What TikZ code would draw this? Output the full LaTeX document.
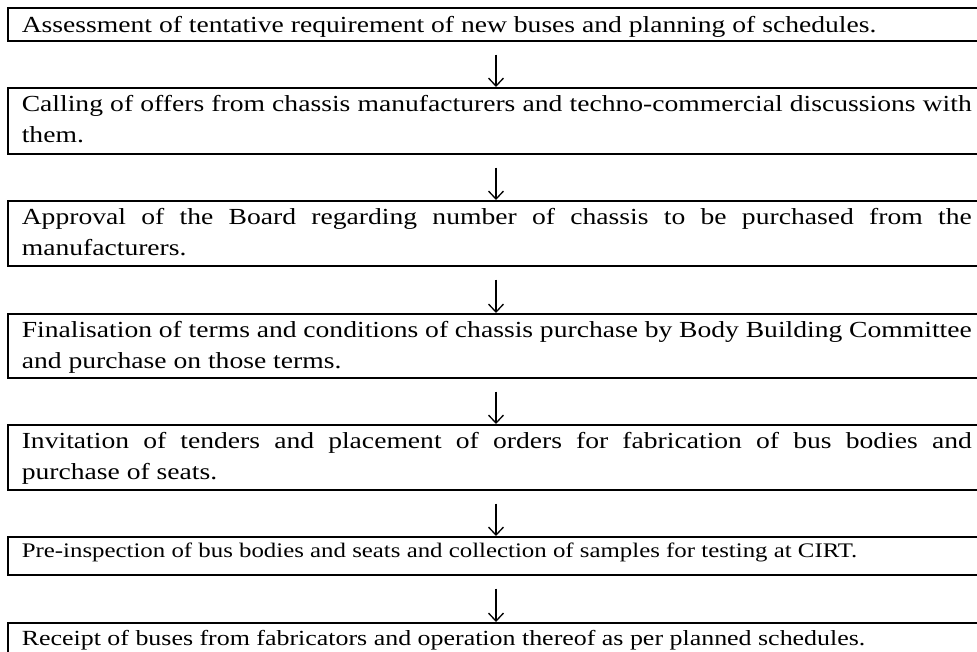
\documentclass[tikz,border=0pt]{standalone}
\usepackage{fontspec}
\setmainfont{Liberation Serif}[FakeStretch=1.2]
\usetikzlibrary{arrows.meta}
\newcommand{\bxtext}[3]{\noindent\rule{0pt}{#1pt}#3\rule[-#2pt]{0pt}{#2pt}}
\tikzset{
  stepbox/.style={draw, line width=1.6pt, anchor=north west, inner xsep=14pt, inner ysep=0pt,
    text width=950pt, align=justify, font=\fontsize{23pt}{31pt}\selectfont},
  smallbox/.style={stepbox, font=\fontsize{#1}{29pt}\selectfont},
  flowarrow/.style={line width=1.3pt, -{Straight Barb[length=8pt,width=15pt,line width=1.3pt]}}
}
\begin{document}
\begin{tikzpicture}[x=1pt,y=-1pt]
\fill[white] (0,0) rectangle (977,651);
\useasboundingbox (0,0) rectangle (977,651);
\hyphenpenalty=10000 \tolerance=10000
\node[stepbox] (b1) at (7,7) {\bxtext{25}{8}{Assessment of tentative requirement of new buses and planning of schedules.}};
\node[stepbox] (b2) at (7,87) {\bxtext{24}{11}{Calling of offers from chassis manufacturers and techno-commercial discussions with\linebreak them.}};
\node[stepbox] (b3) at (7,200) {\bxtext{24}{10}{Approval of the Board regarding number of chassis to be purchased from the\linebreak manufacturers.}};
\node[stepbox] (b4) at (7,313) {\bxtext{24}{9}{Finalisation of terms and conditions of chassis purchase by Body Building Committee\linebreak and purchase on those terms.}};
\node[stepbox] (b5) at (7,424) {\bxtext{24}{10}{Invitation of tenders and placement of orders for fabrication of bus bodies and\linebreak purchase of seats.}};
\node[smallbox=20.7pt] (b6) at (7,536) {\bxtext{21}{17}{Pre-inspection of bus bodies and seats and collection of samples for testing at CIRT.}};
\node[smallbox=21.6pt] (b7) at (7,622) {\bxtext{23}{12}{Receipt of buses from fabricators and operation thereof as per planned schedules.}};
\coordinate (ax) at (496,0);
\foreach \a/\b in {b1/b2,b2/b3,b3/b4,b4/b5,b5/b6,b6/b7}{
  \draw[flowarrow] ([yshift=-13pt]\a.south -| ax) -- (\b.north -| ax);
}
\end{tikzpicture}
\end{document}
